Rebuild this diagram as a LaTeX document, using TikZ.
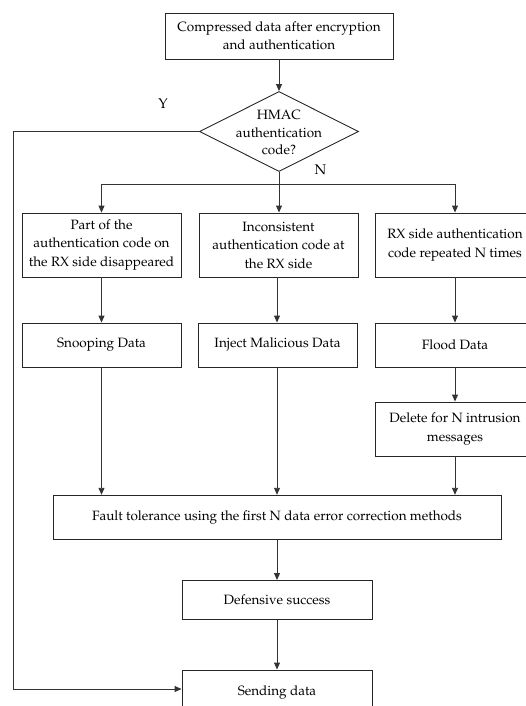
\documentclass[tikz,border=0pt]{standalone}
\usepackage[T1]{fontenc}
\usepackage{mathpazo}
\usetikzlibrary{shapes.geometric,arrows.meta}
\begin{document}
\begin{tikzpicture}[x=1pt,y=-1pt,
  every node/.style={font=\fontsize{13.5}{18.5}\selectfont},
  box/.style={draw=black!85,line width=0.9pt,align=center,inner sep=0pt},
  dec/.style={draw=black!85,line width=0.9pt,shape=diamond,inner sep=0pt},
  dectext/.style={align=center,inner sep=0pt,font=\fontsize{13.5}{17.5}\selectfont},
  conn/.style={draw=black!80,line width=0.9pt},
  arr/.style={conn,-{Triangle[length=7pt,width=6pt]}},
  lbl/.style={font=\fontsize{14}{16}\selectfont}]
\useasboundingbox (0,0) rectangle (526,706);
\clip (0,0) rectangle (526,706);

% boxes
\node[box,minimum width=228pt,minimum height=46pt] (top) at (279,36)
  {Compressed data after encryption\\and authentication};
\node[dec,minimum width=159pt,minimum height=80pt] (dia) at (279,131.5) {};
\node[dectext] (diat) at (279,132.5) {HMAC\\authentication\\code?};
\node[box,minimum width=159pt,minimum height=64pt] (b1) at (101.5,245)
  {Part of the\\authentication code on\\the RX side disappeared};
\node[box,minimum width=159pt,minimum height=64pt] (b2) at (278.5,245)
  {Inconsistent\\authentication code at\\the RX side};
\node[box,minimum width=160pt,minimum height=64pt] (b3) at (455,245)
  {RX side authentication\\code repeated N times};
\node[box,minimum width=159pt,minimum height=44pt] (s1) at (101.5,345) {Snooping Data};
\node[box,minimum width=159pt,minimum height=44pt] (s2) at (277.5,345) {Inject Malicious Data};
\node[box,minimum width=160pt,minimum height=44pt] (s3) at (455,345) {Flood Data};
\node[box,minimum width=160pt,minimum height=54pt] (del) at (455,429)
  {Delete for N intrusion\\messages};
\node[box,minimum width=448pt,minimum height=44.5pt] (ft) at (277,517.5)
  {Fault tolerance using the first N data error correction methods};
\node[box,minimum width=190pt,minimum height=39pt] (ok) at (277,600) {Defensive success};
\node[box,minimum width=190pt,minimum height=45pt] (send) at (277,692.5) {Sending data};

% labels on the decision
\node[lbl] (ly) at (163,104) {Y};
\node[lbl] (ln) at (320.5,170) {N};

% column guides
\coordinate (c1) at (101.5,0);
\coordinate (c2) at (277,0);
\coordinate (c3) at (455,0);
\coordinate (rail) at (13.3,0);
\coordinate (split) at (279,184);

% connectors
\draw[arr] (top.south -| dia.north) -- (dia.north);
\draw[arr] (dia.west) -- (dia.west -| rail) |- ([yshift=3.5pt]send.west);
\draw[conn] (dia.south) -- (split);
\draw[conn] (split -| c1) -- (split -| c3);
\draw[arr] (split -| c1) -- (b1.north -| c1);
\draw[arr] (split) -- (b2.north -| split);
\draw[arr] (split -| c3) -- (b3.north -| c3);
\draw[arr] (b1.south -| c1) -- (s1.north -| c1);
\draw[arr] (b2.south -| c2) -- (s2.north -| c2);
\draw[arr] (b3.south -| c3) -- (s3.north -| c3);
\draw[arr] (s3.south -| c3) -- (del.north -| c3);
\draw[arr] (s1.south -| c1) -- (ft.north -| c1);
\draw[arr] (s2.south -| c2) -- (ft.north -| c2);
\draw[arr] (del.south -| c3) -- (ft.north -| c3);
\draw[arr] (ft.south -| c2) -- (ok.north -| c2);
\draw[arr] (ok.south -| c2) -- (send.north -| c2);
\end{tikzpicture}
\end{document}
